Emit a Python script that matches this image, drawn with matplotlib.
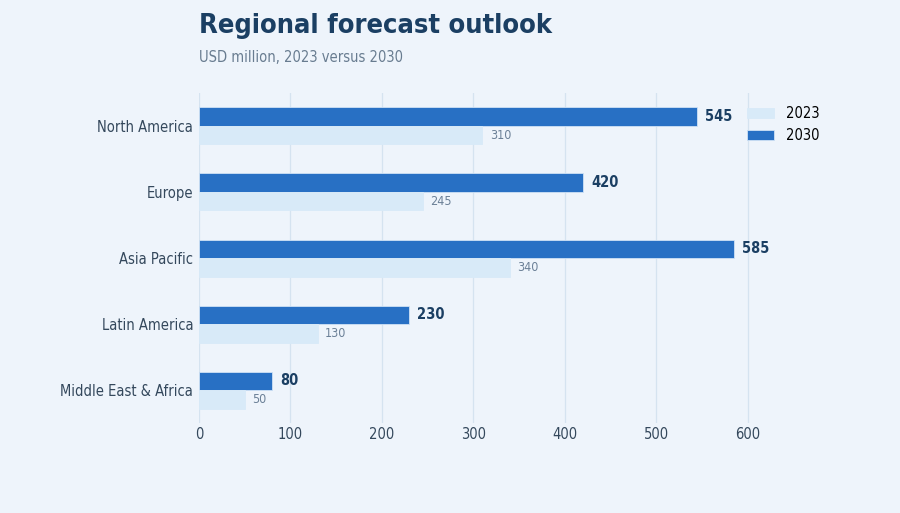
import numpy as np
import matplotlib
matplotlib.use("Agg")
import matplotlib.pyplot as plt

plt.rcParams["font.family"] = ["DejaVu Sans"]
plt.rcParams["font.stretch"] = "condensed"

# --- DATA ---
regions = ["North America", "Europe", "Asia Pacific", "Latin America", "Middle East & Africa"]
values_2023 = [310, 245, 340, 130, 50]
values_2030 = [545, 420, 585, 230, 80]

BG = "#eef4fb"
DARK = "#2870c4"
LIGHT = "#d8eaf8"
NAVY = "#1b3f63"

fig = plt.figure(figsize=(9, 5.13), dpi=100, facecolor=BG)
ax = fig.add_axes([0.221, 0.175, 0.701, 0.644], facecolor=BG)

y = np.arange(len(regions))
h = 0.28
b30 = ax.barh(y - h / 2, values_2030, height=h, color=DARK, edgecolor="#cfe2f5", linewidth=0.6, label="2030", zorder=3)
b23 = ax.barh(y + h / 2, values_2023, height=h, color=LIGHT, edgecolor=LIGHT, linewidth=0.6, label="2023", zorder=3)

for yi, v in zip(y, values_2030):
    ax.text(v + 9, yi - h / 2, f"{v}", va="center", ha="left", fontsize=10.5, fontweight="bold", color=NAVY)
for yi, v in zip(y, values_2023):
    ax.text(v + 8, yi + h / 2, f"{v}", va="center", ha="left", fontsize=9, color="#6b8097")

ax.set_yticks(y)
ax.set_yticklabels(regions, fontsize=10.5, color="#34485c")
ax.set_ylim(len(regions) - 0.5, -0.5)
ax.set_xlim(0, 690)
ax.set_xticks([0, 100, 200, 300, 400, 500, 600])
ax.tick_params(axis="x", labelsize=10.5, colors="#34485c", length=0, pad=3)
ax.tick_params(axis="y", length=0, pad=4)
ax.grid(axis="x", color="#d5e3f0", linewidth=0.9, zorder=0)
for s in ax.spines.values():
    s.set_visible(False)

handles = [b23, b30]
ax.legend(handles, ["2023", "2030"], loc="upper right", bbox_to_anchor=(1.0, 0.991), frameon=False,
          fontsize=10.5, handlelength=1.85, handleheight=0.7, borderaxespad=0.3)

fig.text(0.221, 0.95, "Regional forecast outlook", fontsize=19.5, fontweight="bold", color=NAVY, va="center", ha="left")
fig.text(0.221, 0.887, "USD million, 2023 versus 2030", fontsize=10.5, color="#687c90", va="center", ha="left")

fig.savefig("out.png", dpi=100, facecolor=BG)
